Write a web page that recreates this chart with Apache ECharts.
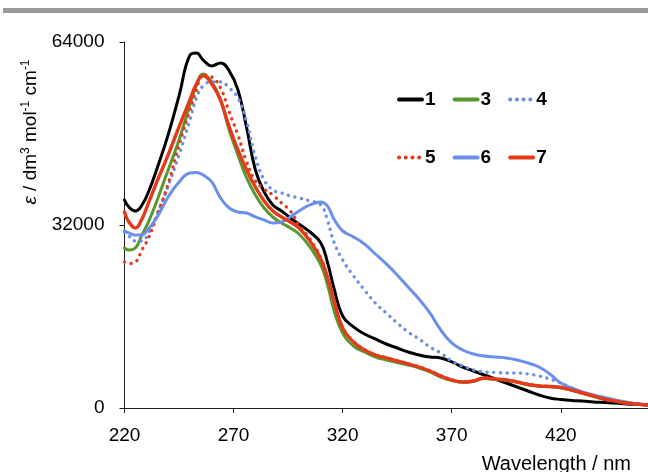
<!DOCTYPE html>
<html>
<head>
<meta charset="utf-8">
<script src="https://cdn.jsdelivr.net/npm/echarts@6/dist/echarts.min.js"></script>
<style>
  html, body { margin: 0; padding: 0; background: #ffffff; }
  #chart { width: 648px; height: 472px; }
</style>
</head>
<body>
<div id="chart"></div>
<script>
// Absorption spectra: wavelength (nm) against molar absorptivity (dm3 mol-1 cm-1)
const wavelengths = [220,222,225,228,231,235,240,245,250,253,256,260,264,268,272,276,280,284,288,292,296,300,305,310,313,316,320,325,330,335,340,345,350,355,360,365,370,375,380,385,390,395,400,405,410,415,420,425,430,435,440,445,450,455,460];

const eps1 = [36380,35150,34450,35500,37780,41980,47750,54570,61700,62090,60870,59810,60340,58940,55620,49000,41630,37780,35500,34450,33230,32180,30780,28860,25540,20990,16090,14170,12940,12070,11190,10490,9790,9270,8920,8750,8050,7170,6470,5770,5070,4370,3670,2970,2270,1750,1490,1310,1220,1050,960,870,700,610,520];

const eps3 = [27980,27630,27980,30260,32530,36380,41630,46870,53000,56490,58420,57020,53870,48620,44250,40230,37250,34980,33400,32360,31480,30430,28160,25010,21690,17140,13120,10840,9790,8920,8400,7960,7520,7000,6300,5420,4810,4500,4650,5150,4980,4820,4480,4050,3800,3700,3520,3100,2580,2060,1540,1200,850,690,510];

const eps4 = [30780,30080,29210,29210,30610,33930,38830,44250,50370,54220,56320,57020,57020,55970,54220,50020,43900,39880,38130,37600,37080,36730,36200,35500,32880,29030,25890,23090,20640,18360,16620,14870,13290,12070,10670,9620,8220,7350,6650,6300,6210,6120,6120,5950,5600,5070,4370,3500,2620,2100,1570,1220,870,700,520];

const eps5 = [25540,25270,25540,27630,29730,33760,39180,46000,52120,55620,58240,57890,55970,51770,47750,43030,39700,38300,37250,35850,34450,32010,29560,26240,22740,18890,13990,11600,10200,9320,8800,8270,7750,7220,6520,5650,4950,4600,4760,5280,5100,4930,4580,4140,3880,3780,3610,3170,2640,2110,1580,1230,880,700,520];

const eps6 = [30960,30610,30260,30260,31310,33410,36900,39530,41100,41190,40750,39530,36730,34980,34280,34100,33410,32880,32360,32530,33410,34450,35500,36030,35330,33060,30960,29910,28680,26930,25190,23260,21160,19060,16620,13640,11370,10140,9440,9090,8920,8750,8400,7870,7170,5950,4370,3500,2800,2270,1840,1400,1050,700,520];

const eps7 = [34280,32530,31480,33060,35850,39700,44250,49150,53870,56670,58070,56670,53870,49150,45120,41630,38650,36200,34450,33400,32530,31480,29210,26060,22910,18890,13990,11540,10140,9270,8750,8220,7700,7170,6470,5600,4900,4550,4720,5250,5070,4900,4550,4110,3850,3760,3590,3150,2620,2100,1570,1220,870,700,520];

const yTicks = { min: 0, max: 64000, step: 32000 };
const xTicks = { min: 220, max: 460, step: 50 };

const FONT = '"Liberation Sans", Arial, Helvetica, sans-serif';
const AXIS_COLOR = '#1e1e1e';
const DOTS = [0.1, 6.6];

function lineSeries(name, values, color, width, dotted, z) {
  return {
    name: name,
    type: 'line',
    data: wavelengths.map((w, i) => [w, values[i]]),
    symbol: 'none',
    smooth: 0.45,
    z: z,
    itemStyle: { color: color },
    lineStyle: {
      color: color,
      width: width,
      type: dotted ? DOTS : 'solid',
      cap: 'round',
      join: 'round'
    },
    emphasis: { disabled: true }
  };
}

const legendCommon = {
  left: 397,
  padding: 0,
  itemWidth: 23,
  itemHeight: 14,
  itemGap: 17,
  selectedMode: false,
  itemStyle: { opacity: 0 },
  lineStyle: { width: 4, cap: 'round' },
  textStyle: { fontSize: 19, fontWeight: 'bold', color: '#000', fontFamily: FONT, padding: [0, 0, 0, -2] }
};

const chart = echarts.init(document.getElementById('chart'), null, { renderer: 'canvas' });

chart.setOption({
  backgroundColor: '#ffffff',
  animation: false,
  grid: { left: 124.5, right: 0, top: 42, bottom: 64, containLabel: false },
  legend: [
    Object.assign({ data: ['1', '3', '4'], top: 90 }, legendCommon),
    Object.assign({ data: ['5', '6', '7'], top: 148 }, legendCommon)
  ],
  xAxis: {
    type: 'value',
    min: xTicks.min,
    max: xTicks.max,
    interval: xTicks.step,
    axisLine: { show: true, lineStyle: { color: AXIS_COLOR, width: 1 } },
    axisTick: { show: true, length: 5, lineStyle: { color: AXIS_COLOR, width: 1 } },
    axisLabel: { fontSize: 19, color: '#000', fontFamily: FONT, margin: 18, showMaxLabel: false },
    splitLine: { show: false }
  },
  yAxis: {
    type: 'value',
    min: yTicks.min,
    max: yTicks.max,
    interval: yTicks.step,
    axisLine: { show: true, lineStyle: { color: AXIS_COLOR, width: 1 } },
    axisTick: { show: true, length: 5, lineStyle: { color: AXIS_COLOR, width: 1 } },
    axisLabel: { fontSize: 19, color: '#000', fontFamily: FONT, margin: 20, formatter: (v) => String(v) },
    splitLine: { show: false }
  },
  graphic: [
    {
      type: 'rect',
      shape: { x: 3, y: 8, width: 645, height: 5 },
      style: { fill: '#9a9a9a' },
      silent: true
    },
    {
      type: 'text',
      x: 631, y: 464,
      style: {
        text: 'Wavelength / nm',
        fontSize: 20, fontFamily: FONT, fill: '#000',
        textAlign: 'right', textVerticalAlign: 'middle'
      },
      silent: true
    },
    {
      type: 'text',
      x: 31, y: 132,
      rotation: Math.PI / 2,
      style: {
        text: '{i|ε} / dm{s|3} mol{s|-1} cm{s|-1}',
        fontSize: 19, fontFamily: FONT, fill: '#000',
        textAlign: 'center', textVerticalAlign: 'middle',
        rich: {
          i: { fontSize: 19, fontStyle: 'italic', fontFamily: FONT, fill: '#000' },
          s: { fontSize: 12, fontFamily: FONT, fill: '#000', verticalAlign: 'top', lineHeight: 22 }
        }
      },
      silent: true
    }
  ],
  series: [
    lineSeries('1', eps1, '#000000', 3, false, 2),
    lineSeries('3', eps3, '#58982e', 3, false, 3),
    lineSeries('4', eps4, '#6b8fea', 3.4, true, 4),
    lineSeries('5', eps5, '#e23c1e', 3.4, true, 5),
    lineSeries('6', eps6, '#6b8fea', 3, false, 6),
    lineSeries('7', eps7, '#e33b1a', 3.4, false, 7)
  ]
});
</script>
</body>
</html>
